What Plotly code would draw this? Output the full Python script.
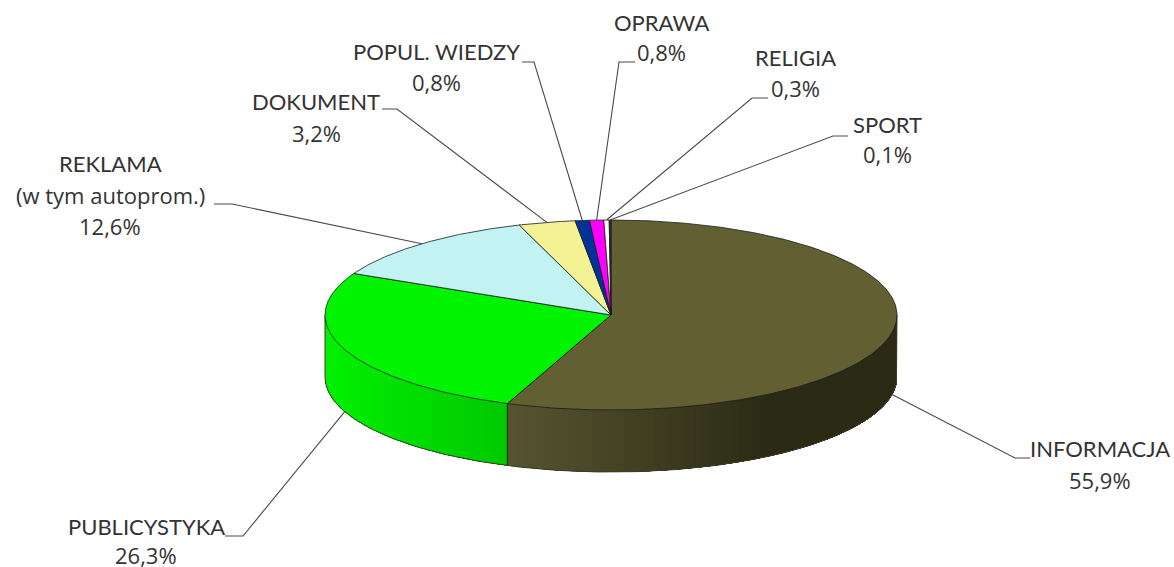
import numpy as np
import plotly.graph_objects as go

categories = ["INFORMACJA", "PUBLICYSTYKA", "REKLAMA", "DOKUMENT", "POPUL. WIEDZY", "OPRAWA", "RELIGIA", "SPORT"]
values = [55.9, 26.3, 12.6, 3.2, 0.8, 0.8, 0.3, 0.1]
value_labels = ["55,9%", "26,3%", "12,6%", "3,2%", "0,8%", "0,8%", "0,3%", "0,1%"]
top_colors = ["#625F33", "#00F400", "#C2F2F2", "#F3F294", "#003399", "#FF00FF", "#FFFFFF", "#3A3340"]
side_left = {0: (86, 84, 47), 1: (0, 240, 0)}
side_right = {0: (42, 42, 21), 1: (0, 200, 0)}
side_ramp_end = {0: 770, 1: 508}

# Layout of the drawing, in page pixels
CX, CY, RX, RY, DEPTH = 611, 315, 286, 95, 62
name_pos = [(1100, 450), (146, 528), (110, 165), (316, 103), (436, 53), (661, 24), (795, 59), (887, 126)]
value_pos = [(1100, 482), (146, 557), (110, 228), (316, 135), (436, 84), (661, 54), (795, 90), (887, 156)]
extra_line = ("(w tym autoprom.)", 110, 197)
elbows = [
    [(1015, 458), (1030, 458)],
    [(243, 536), (225, 536)],
    [(232, 204), (214, 204)],
    [(397, 109), (382, 109)],
    [(534, 62), (522, 62)],
    [(619, 62), (635, 62)],
    [(752, 98), (768, 98)],
    [(833, 136), (848, 136)],
]


def ell(theta):
    return CX + RX * np.sin(theta), CY - RY * np.cos(theta)


edges = np.cumsum([0] + values) / sum(values) * 2 * np.pi
fig = go.Figure()


def poly(x, y, fill, line, width=1):
    fig.add_trace(go.Scatter(x=x, y=y, mode="lines", fill="toself", fillcolor=fill,
                             line=dict(color=line, width=width), hoverinfo="skip", showlegend=False))


# Side wall: visible lower half only, in narrow shaded bands that overlap their neighbours
for i, (a0, a1) in enumerate([(edges[1], np.pi / 2), (3 * np.pi / 2, edges[1])]):
    n = 70
    ts = np.linspace(a0, a1, n + 1)
    xs = ell(np.array([a0, a1]))[0]
    xa, xb = min(xs), max(xs)
    xb = side_ramp_end[i] if i == 0 else xb
    for k in range(n):
        tt = np.linspace(ts[k], a1, 60) if k < n - 1 else np.linspace(ts[k], ts[k + 1], 4)
        ex, ey = ell(tt)
        f = min(1.0, (ex[0] - xa) / (xb - xa))
        c = [round(l + (r - l) * f) for l, r in zip(side_left[i], side_right[i])]
        col = f"rgb({c[0]},{c[1]},{c[2]})"
        poly(list(ex) + list(ex[::-1]), list(ey) + list(ey[::-1] + DEPTH), col, col, 0)

# Side wall outline
ts = np.linspace(np.pi / 2, 3 * np.pi / 2, 200)
ex, ey = ell(ts)
fig.add_trace(go.Scatter(x=[ex[0]] + list(ex) + [ex[-1]], y=[ey[0]] + list(ey + DEPTH) + [ey[-1]], mode="lines",
                         line=dict(color="#3c3c2c", width=1), hoverinfo="skip", showlegend=False))
bx, by = ell(edges[1])
fig.add_trace(go.Scatter(x=[bx, bx], y=[by, by + DEPTH], mode="lines",
                         line=dict(color="#20200f", width=1), hoverinfo="skip", showlegend=False))

# Top face wedges
for i, col in enumerate(top_colors):
    n = max(3, int((edges[i + 1] - edges[i]) * 120))
    tt = np.linspace(edges[i], edges[i + 1], n)
    ex, ey = ell(tt)
    poly([CX] + list(ex) + [CX], [CY] + list(ey) + [CY], col, "#1a1a1a", 0.8)

# Leader lines, starting at each slice's mid angle
for i, el in enumerate(elbows):
    mid = (edges[i] + edges[i + 1]) / 2
    x0, y0 = ell(mid)
    if np.cos(mid) < 0:
        y0 += DEPTH
    fig.add_trace(go.Scatter(x=[x0] + [p[0] for p in el], y=[y0] + [p[1] for p in el], mode="lines",
                             line=dict(color="#4a4a4a", width=1.1), hoverinfo="skip", showlegend=False))


# Labels
def label(txt, x, y, family, size):
    fig.add_annotation(x=x, y=y - 2, text=txt, showarrow=False, xanchor="center", yanchor="middle",
                       font=dict(family=family, size=size, color="#333333"))


for name, (x, y) in zip(categories, name_pos):
    label(name, x, y, "Lato", 22)
for val, (x, y) in zip(value_labels, value_pos):
    label(val, x, y, "Open Sans", 22)
label(extra_line[0], extra_line[1], extra_line[2], "Open Sans", 22)

fig.update_layout(width=1174, height=567, margin=dict(l=0, r=0, t=0, b=0), paper_bgcolor="white",
                  plot_bgcolor="white", showlegend=False,
                  xaxis=dict(range=[0, 1174], visible=False, fixedrange=True),
                  yaxis=dict(range=[567, 0], visible=False, fixedrange=True))
fig.write_html("out.html", config={"displayModeBar": False},
               post_script="document.body.style.margin='0';document.body.style.overflow='hidden';")
